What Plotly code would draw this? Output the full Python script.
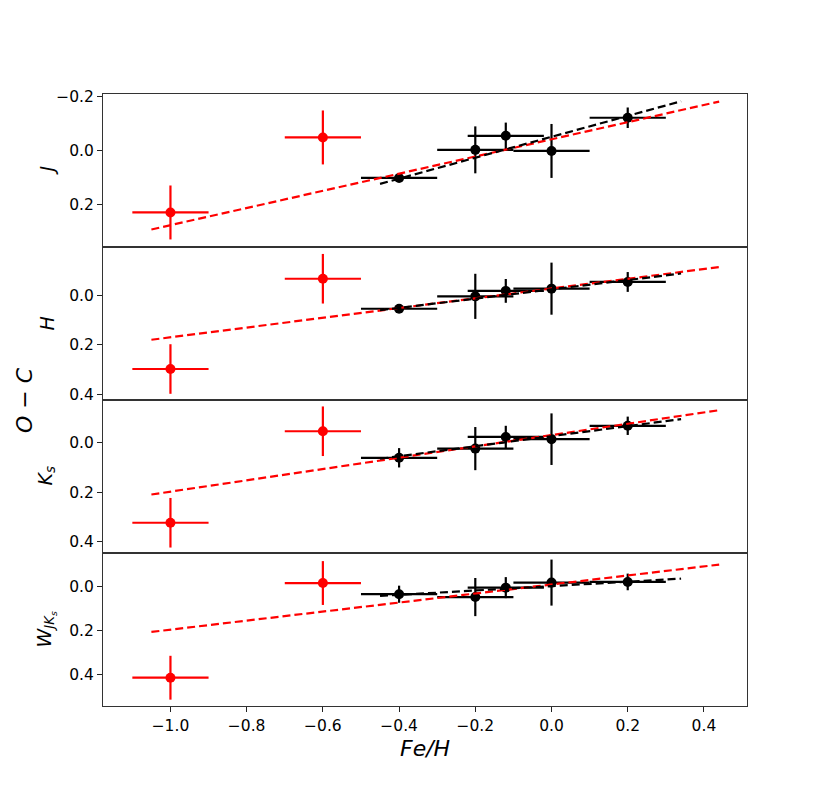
import plotly.graph_objects as go
from plotly.subplots import make_subplots

# ---- data ----
bands = ["J", "H", "Ks", "W"]
band_labels = ["<i>J</i>", "<i>H</i>", "<i>K<sub>s</sub></i>", "<i>W<sub>JK<sub>s</sub></sub></i>"]

red_feh = [-1.0, -0.6]
red_xerr = [0.1, 0.1]
red_oc = {
    "J": [0.228, -0.050],
    "H": [0.297, -0.067],
    "Ks": [0.323, -0.046],
    "W": [0.414, -0.018],
}
red_yerr = {
    "J": [0.10, 0.10],
    "H": [0.10, 0.10],
    "Ks": [0.10, 0.10],
    "W": [0.10, 0.10],
}

black_feh = [-0.4, -0.2, -0.12, 0.0, 0.2]
black_xerr = [0.1, 0.1, 0.1, 0.1, 0.1]
black_oc = {
    "J": [0.100, -0.004, -0.056, 0.000, -0.123],
    "H": [0.054, 0.004, -0.018, -0.027, -0.054],
    "Ks": [0.061, 0.024, -0.023, -0.014, -0.068],
    "W": [0.033, 0.046, 0.003, -0.020, -0.023],
}
black_yerr = {
    "J": [0.010, 0.087, 0.049, 0.100, 0.038],
    "H": [0.010, 0.091, 0.048, 0.105, 0.040],
    "Ks": [0.039, 0.087, 0.045, 0.104, 0.037],
    "W": [0.039, 0.087, 0.048, 0.105, 0.038],
}

# dashed fit lines (end points)
red_line_x = [-1.05, 0.44]
red_line_y = {
    "J": [0.291, -0.183],
    "H": [0.179, -0.114],
    "Ks": [0.209, -0.131],
    "W": [0.205, -0.102],
}
black_line_x = [-0.45, 0.34]
black_line_y = {
    "J": [0.122, -0.184],
    "H": [0.060, -0.088],
    "Ks": [0.065, -0.095],
    "W": [0.041, -0.038],
}

y_ranges = {
    "J": [0.356, -0.211],
    "H": [0.422, -0.195],
    "Ks": [0.445, -0.172],
    "W": [0.543, -0.155],
}
y_ticks = {
    "J": [-0.2, 0.0, 0.2],
    "H": [0.0, 0.2, 0.4],
    "Ks": [0.0, 0.2, 0.4],
    "W": [0.0, 0.2, 0.4],
}
x_ticks = [-1.0, -0.8, -0.6, -0.4, -0.2, 0.0, 0.2, 0.4]
x_range = [-1.177, 0.513]


def fmt(v):
    s = f"{v:.1f}"
    if v < 0:
        s = "\u2212" + s[1:]
    return s


fig = make_subplots(rows=4, cols=1, shared_xaxes=True, vertical_spacing=0)

font_family = "DejaVu Sans"
dash = "8px,4px"

for i, b in enumerate(bands):
    r = i + 1
    fig.add_trace(go.Scatter(
        x=red_feh, y=red_oc[b], mode="markers",
        marker=dict(color="#ff0000", size=10),
        error_x=dict(type="data", array=red_xerr, color="#ff0000", thickness=2.2, width=0),
        error_y=dict(type="data", array=red_yerr[b], color="#ff0000", thickness=2.2, width=0),
        showlegend=False,
    ), row=r, col=1)
    fig.add_trace(go.Scatter(
        x=black_feh, y=black_oc[b], mode="markers",
        marker=dict(color="black", size=10),
        error_x=dict(type="data", array=black_xerr, color="black", thickness=2.2, width=0),
        error_y=dict(type="data", array=black_yerr[b], color="black", thickness=2.2, width=0),
        showlegend=False,
    ), row=r, col=1)
    fig.add_trace(go.Scatter(
        x=red_line_x, y=red_line_y[b], mode="lines",
        line=dict(color="#ff0000", width=2.2, dash=dash),
        showlegend=False,
    ), row=r, col=1)
    fig.add_trace(go.Scatter(
        x=black_line_x, y=black_line_y[b], mode="lines",
        line=dict(color="black", width=2.2, dash=dash),
        showlegend=False,
    ), row=r, col=1)

    fig.update_yaxes(
        range=y_ranges[b], tickvals=y_ticks[b], ticktext=[fmt(v) for v in y_ticks[b]],
        ticks="outside", ticklen=5, tickwidth=1.2, tickcolor="#222",
        showline=True, linecolor="#333", linewidth=1.2, mirror=True,
        showgrid=False, zeroline=False,
        tickfont=dict(family=font_family, size=15.5, color="black"),
        row=r, col=1,
    )
    fig.update_xaxes(
        range=x_range, tickvals=x_ticks, ticktext=[fmt(v) for v in x_ticks],
        ticks="outside" if r == 4 else "", ticklen=5, tickwidth=1.2, tickcolor="#222",
        showticklabels=(r == 4),
        showline=True, linecolor="#333", linewidth=1.2, mirror=True,
        showgrid=False, zeroline=False,
        tickfont=dict(family=font_family, size=15.5, color="black"),
        row=r, col=1,
    )

annotations = []
n = len(bands)
for i, lab in enumerate(band_labels):
    yc = 1 - (i + 0.5) / n
    annotations.append(dict(
        text=lab, xref="paper", yref="paper", x=0, y=yc, xshift=-57,
        xanchor="center", yanchor="middle", textangle=-90, showarrow=False,
        font=dict(family=font_family, size=19, color="black"),
    ))
annotations.append(dict(
    text="<i>O</i> \u2212 <i>C</i>", xref="paper", yref="paper", x=0, y=0.5, xshift=-79,
    xanchor="center", yanchor="middle", textangle=-90, showarrow=False,
    font=dict(family=font_family, size=22, color="black"),
))
annotations.append(dict(
    text="<i>Fe/H</i>", xref="paper", yref="paper", x=0.5, y=0, yshift=-42,
    xanchor="center", yanchor="middle", showarrow=False,
    font=dict(family=font_family, size=22, color="black"),
))

fig.update_layout(
    width=830, height=794,
    margin=dict(l=95, r=91, t=86, b=96),
    paper_bgcolor="white", plot_bgcolor="white",
    annotations=annotations,
    font=dict(family=font_family),
)

fig.write_html("out.html")
